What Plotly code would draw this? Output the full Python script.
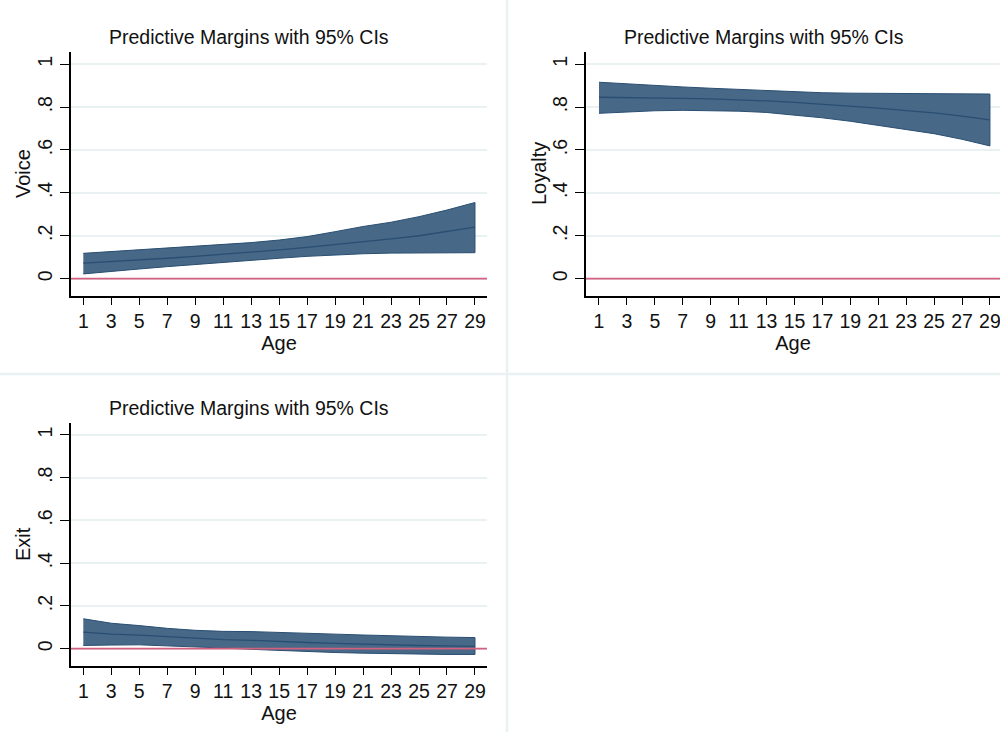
import plotly.graph_objects as go

# ---- data ----
ages = [1, 3, 5, 7, 9, 11, 13, 15, 17, 19, 21, 23, 25, 27, 29]

voice_mean = [0.072, 0.079, 0.087, 0.095, 0.104, 0.113, 0.123, 0.134, 0.146, 0.158, 0.171, 0.185, 0.200, 0.219, 0.240]
voice_lo   = [0.022, 0.034, 0.045, 0.056, 0.066, 0.076, 0.086, 0.095, 0.104, 0.111, 0.116, 0.119, 0.121, 0.121, 0.121]
voice_hi   = [0.118, 0.126, 0.134, 0.142, 0.149, 0.157, 0.168, 0.180, 0.196, 0.219, 0.243, 0.263, 0.289, 0.320, 0.355]

loyal_mean = [0.846, 0.845, 0.843, 0.841, 0.838, 0.834, 0.829, 0.822, 0.814, 0.805, 0.795, 0.784, 0.773, 0.758, 0.740]
loyal_lo   = [0.771, 0.778, 0.783, 0.785, 0.784, 0.781, 0.775, 0.764, 0.750, 0.734, 0.715, 0.696, 0.676, 0.650, 0.619]
loyal_hi   = [0.916, 0.908, 0.901, 0.894, 0.888, 0.882, 0.876, 0.871, 0.867, 0.865, 0.864, 0.863, 0.862, 0.862, 0.861]

exit_mean = [0.077, 0.068, 0.063, 0.055, 0.047, 0.042, 0.039, 0.033, 0.029, 0.025, 0.021, 0.018, 0.015, 0.013, 0.011]
exit_lo   = [0.015, 0.017, 0.018, 0.015, 0.009, 0.003, -0.003, -0.009, -0.014, -0.018, -0.021, -0.024, -0.026, -0.027, -0.027]
exit_hi   = [0.140, 0.119, 0.108, 0.095, 0.086, 0.081, 0.080, 0.075, 0.072, 0.068, 0.064, 0.060, 0.057, 0.054, 0.052]

panel_title = "Predictive Margins with 95% CIs"
x_title = "Age"
y_titles = ["Voice", "Loyalty", "Exit"]
y_tickvals = [0, 0.2, 0.4, 0.6, 0.8, 1]
y_ticktext = ["0", ".2", ".4", ".6", ".8", "1"]
x_tickvals = ages

# ---- styling ----
FILL = "#476887"
EDGE = "#2a4e72"
REFLINE = "#d2607e"
GRID = "#eaf1f3"
FONT = "Liberation Sans, Arial, sans-serif"
W, H = 1000, 732

fig = go.Figure()

panels = [
    (voice_mean, voice_lo, voice_hi, "x", "y"),
    (loyal_mean, loyal_lo, loyal_hi, "x2", "y2"),
    (exit_mean, exit_lo, exit_hi, "x3", "y3"),
]

for mean, lo, hi, xa, ya in panels:
    fig.add_trace(go.Scatter(
        x=ages + ages[::-1], y=hi + lo[::-1],
        fill="toself", fillcolor=FILL, mode="lines",
        line=dict(color=EDGE, width=1), hoverinfo="skip",
        showlegend=False, xaxis=xa, yaxis=ya))
    fig.add_trace(go.Scatter(
        x=ages, y=mean, mode="lines",
        line=dict(color=EDGE, width=1.3),
        showlegend=False, xaxis=xa, yaxis=ya))

# domains in paper coordinates (pixel based)
def xd(a, b):
    return [a / W, b / W]

def yd(top, bottom):
    return [1 - bottom / H, 1 - top / H]

dom = [
    (xd(71, 487), yd(52, 296), [0.12, 29.86]),
    (xd(586, 1000), yd(52, 296), [0.07, 29.72]),
    (xd(71, 487), yd(422.7, 666), [0.12, 29.86]),
]

common_x = dict(
    tickmode="array", tickvals=x_tickvals, ticktext=[str(v) for v in x_tickvals],
    showgrid=False, zeroline=False, showline=True, linecolor="black", linewidth=1.5,
    ticks="outside", ticklen=7, tickwidth=1.3, tickcolor="black",
    tickfont=dict(family=FONT, size=19.5, color="#111"), ticklabeloverflow="allow",
    title=dict(text=x_title, font=dict(family=FONT, size=20, color="#111"), standoff=0),
)
common_y = dict(
    tickmode="array", tickvals=y_tickvals, ticktext=y_ticktext, tickangle=-90,
    showgrid=True, gridcolor=GRID, gridwidth=1.5, zeroline=False,
    showline=True, linecolor="black", linewidth=1.5,
    ticks="outside", ticklen=9, tickwidth=1.3, tickcolor="black",
    tickfont=dict(family=FONT, size=19.5, color="#111"),
    range=[-0.081, 1.057],
)

names = [("xaxis", "yaxis", "y", "x"), ("xaxis2", "yaxis2", "y2", "x2"), ("xaxis3", "yaxis3", "y3", "x3")]
layout_axes = {}
for (xn, yn, anch_y, anch_x), (xdom, ydom, xr) in zip(names, dom):
    layout_axes[xn] = dict(common_x, domain=xdom, anchor=anch_y, range=xr)
    layout_axes[yn] = dict(common_y, domain=ydom, anchor=anch_x)

fig.update_layout(**layout_axes)

# y axis titles (placed as rotated text beside each panel)
for title, (cx, cy) in zip(y_titles, [(23, 174), (539, 174), (23, 544)]):
    fig.add_annotation(text=title, xref="paper", yref="paper", x=cx / W, y=1 - cy / H,
                       xanchor="center", yanchor="middle", textangle=-90, showarrow=False,
                       font=dict(family=FONT, size=20, color="#111"))

# reference line at zero
for xa, ya in [("x", "y"), ("x2", "y2"), ("x3", "y3")]:
    fig.add_shape(type="line", xref=f"{xa} domain", yref=ya, x0=0, x1=1, y0=0, y1=0,
                  line=dict(color=REFLINE, width=1.8), layer="above")

# panel titles
for cx, cy in [(249, 37), (764, 37), (249, 407.5)]:
    fig.add_annotation(text=panel_title, xref="paper", yref="paper", x=cx / W, y=1 - cy / H,
                       xanchor="center", yanchor="middle", showarrow=False,
                       font=dict(family=FONT, size=19.5, color="#111"))

# panel separators
fig.add_shape(type="line", xref="paper", yref="paper", x0=507 / W, x1=507 / W, y0=0, y1=1,
              line=dict(color=GRID, width=2.5), layer="below")
fig.add_shape(type="line", xref="paper", yref="paper", x0=0, x1=1, y0=1 - 374 / H, y1=1 - 374 / H,
              line=dict(color=GRID, width=2.5), layer="below")

fig.update_layout(
    width=W, height=H, margin=dict(l=0, r=0, t=0, b=0),
    paper_bgcolor="white", plot_bgcolor="white",
    font=dict(family=FONT, color="#111"),
)

fig.write_html("out.html", config={"displayModeBar": False},
               post_script="document.body.style.margin='0';document.body.style.overflow='hidden';")
